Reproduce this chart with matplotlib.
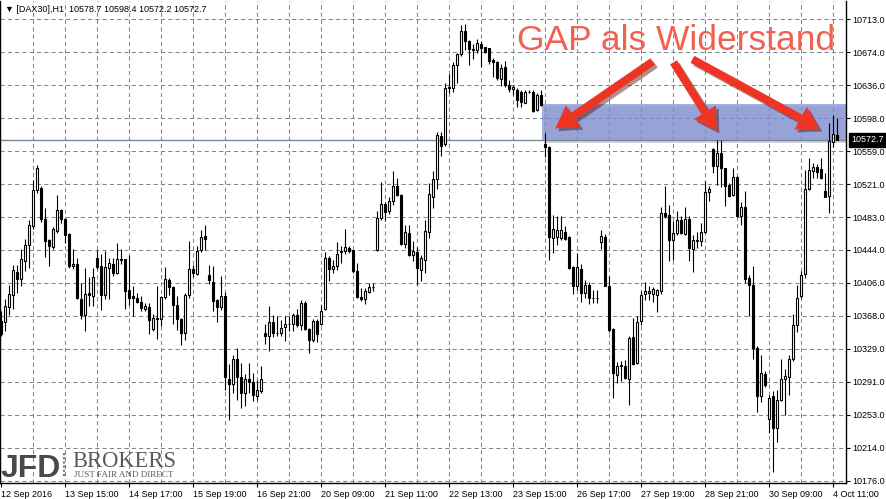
import matplotlib
matplotlib.use("Agg")
import matplotlib.pyplot as plt
from matplotlib.patches import Rectangle, FancyArrowPatch
import matplotlib.patheffects as pe
import numpy as np

# DAX30 H1 candles (bar 0 = 12 Sep 2016)
opens = [10361.9, 10360.7, 10378.2, 10392.5, 10419.2, 10411.1, 10431.6, 10450.6, 10472.3, 10514.9,
         10516.9, 10480.1, 10456.1, 10447.9, 10466.5, 10490.5, 10480.1, 10462.6, 10425.8, 10427.7,
         10387.8, 10368.9, 10394.1, 10390.9, 10434.7, 10425.4, 10392.1, 10423.9, 10428.5, 10417.3,
         10433.6, 10433.6, 10397.5, 10390.9, 10389.0, 10384.3, 10376.2, 10378.5, 10353.0, 10365.8,
         10364.6, 10390.2, 10409.1, 10401.4, 10380.8, 10364.2, 10347.9, 10392.5, 10422.3, 10416.9,
         10444.0, 10461.0, 10415.3, 10407.6, 10386.6, 10377.7, 10391.3, 10294.8, 10288.6, 10317.6,
         10296.7, 10278.1, 10294.8, 10291.3, 10274.3, 10280.1, 10348.3, 10344.8, 10360.7, 10348.3,
         10347.9, 10354.5, 10358.7, 10358.4, 10369.2, 10357.6, 10382.8, 10352.5, 10340.1, 10362.2,
         10358.4, 10375.8, 10435.1, 10422.3, 10425.4, 10441.7, 10442.9, 10446.8, 10444.1, 10420.4,
         10390.2, 10387.5, 10395.6, 10401.5, 10444.1, 10481.7, 10498.3, 10489.4, 10501.0, 10519.2,
         10508.0, 10451.8, 10464.2, 10438.3, 10442.1, 10421.6, 10432.4, 10465.4, 10505.7, 10527.0,
         10577.4, 10567.7, 10634.3, 10632.8, 10659.9, 10672.3, 10699.4, 10687.8, 10676.9, 10677.4,
         10683.9, 10680.4, 10679.3, 10666.1, 10663.0, 10643.6, 10658.0, 10636.0, 10632.0, 10630.7,
         10628.8, 10616.0, 10628.8, 10628.8, 10607.5, 10624.9, 10568.0, 10564.1, 10458.3, 10460.2,
         10458.3, 10466.0, 10459.1, 10424.6, 10402.9, 10422.6, 10394.4, 10404.0, 10388.6, 10388.6,
         10453.3, 10460.2, 10402.9, 10352.5, 10299.4, 10309.1, 10309.9, 10294.4, 10343.2, 10313.0,
         10361.4, 10393.6, 10394.4, 10393.6, 10392.4, 10396.3, 10487.4, 10485.4, 10456.4, 10464.1,
         10479.6, 10463.3, 10480.4, 10445.5, 10455.6, 10454.4, 10464.9, 10511.8, 10561.8, 10542.4,
         10557.1, 10539.7, 10520.3, 10508.7, 10529.2, 10484.3, 10494.3, 10411.8, 10404.0, 10330.4,
         10275.0, 10300.6, 10247.9, 10275.0, 10237.4, 10270.4, 10294.4, 10296.7, 10317.6, 10357.6,
         10391.3, 10416.8, 10515.2, 10537.0, 10540.8, 10538.5, 10512.6, 10507.5, 10570.7, 10578.7]
highs = [10373.5, 10387.8, 10403.7, 10426.6, 10426.6, 10445.2, 10456.8, 10478.9, 10525.8, 10544.0,
         10518.8, 10492.8, 10456.8, 10471.5, 10508.0, 10491.7, 10482.0, 10464.6, 10446.0, 10435.5,
         10406.4, 10423.9, 10412.6, 10423.9, 10444.0, 10439.4, 10442.9, 10435.5, 10435.5, 10452.2,
         10445.2, 10434.3, 10438.6, 10402.6, 10394.8, 10390.9, 10383.2, 10383.2, 10369.6, 10402.6,
         10390.9, 10424.6, 10411.8, 10402.1, 10391.3, 10365.3, 10394.4, 10454.5, 10427.3, 10449.4,
         10468.0, 10473.8, 10427.3, 10426.2, 10387.4, 10413.8, 10395.2, 10312.2, 10322.7, 10330.5,
         10313.0, 10300.6, 10313.0, 10301.4, 10293.6, 10309.1, 10358.7, 10379.7, 10369.2, 10368.0,
         10362.6, 10368.0, 10367.3, 10371.1, 10375.8, 10385.9, 10384.7, 10353.7, 10364.2, 10364.2,
         10380.8, 10441.7, 10437.8, 10432.4, 10453.3, 10449.5, 10469.3, 10448.7, 10444.8, 10429.4,
         10400.3, 10400.3, 10406.1, 10406.1, 10489.4, 10523.5, 10499.9, 10505.7, 10535.9, 10528.2,
         10509.6, 10473.9, 10473.9, 10454.5, 10447.5, 10439.0, 10479.7, 10522.3, 10535.9, 10581.6,
         10581.6, 10638.6, 10649.1, 10663.8, 10673.5, 10706.4, 10707.2, 10689.0, 10683.9, 10690.1,
         10687.8, 10681.2, 10680.1, 10668.4, 10664.6, 10660.7, 10664.6, 10642.0, 10636.0, 10632.7,
         10631.0, 10630.7, 10630.7, 10630.7, 10626.9, 10630.7, 10581.1, 10565.6, 10485.4, 10483.5,
         10484.3, 10471.9, 10461.0, 10425.4, 10440.9, 10428.5, 10409.9, 10406.7, 10398.2, 10398.2,
         10468.0, 10463.3, 10413.7, 10353.7, 10313.8, 10314.9, 10316.1, 10344.0, 10365.3, 10367.2,
         10396.3, 10406.7, 10402.1, 10401.3, 10399.0, 10494.3, 10519.1, 10497.0, 10477.7, 10489.3,
         10484.3, 10495.1, 10483.5, 10462.2, 10466.0, 10475.7, 10525.3, 10518.4, 10562.9, 10572.6,
         10572.6, 10539.7, 10522.2, 10539.7, 10530.8, 10499.8, 10512.6, 10415.7, 10425.4, 10332.4,
         10322.7, 10303.3, 10276.2, 10280.0, 10282.0, 10317.6, 10306.0, 10322.7, 10370.3, 10404.0,
         10419.5, 10537.7, 10551.3, 10545.5, 10544.7, 10551.3, 10533.9, 10592.0, 10601.7, 10598.4]
lows = [10344.4, 10350.3, 10368.9, 10375.4, 10394.8, 10402.6, 10420.0, 10423.9, 10469.2, 10510.3,
        10477.0, 10436.7, 10425.8, 10445.2, 10464.6, 10476.2, 10452.2, 10423.9, 10421.9, 10387.8,
        10363.8, 10350.3, 10379.3, 10379.3, 10421.9, 10374.7, 10387.8, 10387.1, 10414.2, 10416.1,
        10427.7, 10375.4, 10380.1, 10367.7, 10382.4, 10373.5, 10373.5, 10346.4, 10350.3, 10340.6,
        10356.1, 10387.1, 10392.5, 10358.7, 10351.0, 10333.6, 10339.4, 10388.6, 10413.0, 10415.7,
        10441.7, 10444.0, 10405.2, 10373.1, 10360.3, 10374.3, 10282.0, 10246.4, 10278.1, 10269.6,
        10260.7, 10262.6, 10278.1, 10268.5, 10269.6, 10278.1, 10335.5, 10326.6, 10343.2, 10344.0,
        10344.0, 10338.2, 10349.8, 10349.8, 10354.5, 10351.8, 10351.0, 10324.6, 10337.0, 10337.0,
        10356.8, 10375.0, 10408.0, 10417.6, 10421.5, 10429.4, 10439.8, 10441.0, 10417.7, 10388.7,
        10384.8, 10381.7, 10394.5, 10397.2, 10442.9, 10479.7, 10478.6, 10486.3, 10496.4, 10506.8,
        10450.7, 10446.8, 10437.1, 10431.3, 10404.2, 10408.8, 10417.7, 10458.4, 10493.3, 10515.8,
        10554.1, 10565.0, 10627.0, 10628.9, 10638.6, 10670.8, 10677.4, 10659.9, 10666.9, 10673.5,
        10658.0, 10673.5, 10660.7, 10646.4, 10642.5, 10635.9, 10634.7, 10628.0, 10625.0, 10611.4,
        10611.4, 10615.2, 10626.9, 10605.6, 10606.7, 10612.1, 10553.2, 10433.1, 10440.9, 10450.5,
        10456.4, 10456.4, 10422.6, 10393.6, 10398.2, 10383.5, 10388.6, 10381.9, 10382.7, 10382.7,
        10445.5, 10402.1, 10348.6, 10272.3, 10289.7, 10291.7, 10294.4, 10264.5, 10311.1, 10311.8,
        10357.6, 10386.6, 10386.6, 10383.5, 10371.9, 10393.6, 10481.6, 10431.2, 10433.1, 10462.2,
        10463.3, 10462.2, 10431.2, 10418.4, 10446.7, 10448.6, 10464.1, 10502.1, 10533.9, 10520.3,
        10517.6, 10495.9, 10506.7, 10507.5, 10482.7, 10473.8, 10406.0, 10368.0, 10317.6, 10255.6,
        10267.2, 10284.7, 10231.6, 10185.9, 10220.8, 10268.4, 10252.9, 10276.2, 10314.9, 10348.6,
        10388.6, 10411.8, 10514.5, 10528.1, 10528.1, 10526.9, 10506.0, 10488.1, 10564.9, 10572.2]
closes = [10346.4, 10379.3, 10392.9, 10420.8, 10410.3, 10433.6, 10449.8, 10473.9, 10514.9, 10540.1,
          10480.1, 10454.9, 10449.1, 10468.4, 10491.3, 10480.8, 10461.9, 10425.8, 10428.5, 10389.0,
          10368.9, 10393.7, 10391.7, 10412.6, 10425.0, 10392.1, 10424.3, 10429.7, 10418.1, 10433.6,
          10432.4, 10396.7, 10389.0, 10389.0, 10384.0, 10377.4, 10378.9, 10363.0, 10365.8, 10364.6,
          10389.4, 10410.3, 10401.4, 10380.1, 10364.2, 10347.9, 10392.5, 10422.3, 10417.6, 10443.6,
          10459.5, 10457.2, 10409.1, 10384.7, 10377.7, 10390.5, 10296.4, 10288.6, 10317.6, 10296.4,
          10278.1, 10294.8, 10290.5, 10275.4, 10282.0, 10294.8, 10344.0, 10360.3, 10347.9, 10347.5,
          10353.7, 10358.4, 10358.0, 10368.4, 10357.6, 10382.8, 10352.5, 10340.1, 10362.2, 10347.1,
          10373.1, 10435.1, 10422.3, 10426.2, 10440.1, 10443.7, 10447.9, 10442.9, 10420.4, 10389.4,
          10387.5, 10397.2, 10401.9, 10401.1, 10481.7, 10497.9, 10488.6, 10501.0, 10519.2, 10508.0,
          10451.8, 10465.4, 10438.3, 10443.7, 10423.5, 10435.2, 10466.9, 10509.6, 10527.0, 10578.5,
          10566.1, 10633.6, 10632.8, 10659.9, 10672.7, 10699.4, 10687.8, 10678.1, 10678.9, 10685.1,
          10679.3, 10674.6, 10664.9, 10663.8, 10644.4, 10656.0, 10636.7, 10632.0, 10634.0, 10619.1,
          10617.2, 10628.8, 10628.4, 10606.7, 10624.9, 10613.3, 10564.1, 10460.2, 10468.7, 10468.0,
          10468.0, 10457.1, 10423.4, 10402.1, 10424.6, 10394.4, 10404.0, 10388.6, 10388.2, 10389.0,
          10461.0, 10402.9, 10350.9, 10301.4, 10309.9, 10311.1, 10295.5, 10342.0, 10312.2, 10360.7,
          10392.4, 10396.3, 10396.7, 10399.4, 10398.2, 10488.1, 10483.5, 10456.4, 10464.1, 10479.6,
          10464.1, 10480.4, 10446.7, 10455.6, 10455.2, 10466.0, 10511.8, 10515.6, 10542.4, 10557.1,
          10539.7, 10518.4, 10507.5, 10529.2, 10483.5, 10494.3, 10410.6, 10404.0, 10330.4, 10275.0,
          10301.4, 10287.8, 10272.3, 10237.4, 10270.4, 10294.4, 10297.5, 10317.6, 10357.6, 10388.6,
          10415.7, 10515.2, 10537.7, 10540.8, 10535.8, 10528.1, 10506.7, 10571.8, 10579.6, 10572.7]

price_labels = ["10713.0", "10674.0", "10636.0", "10598.0", "10559.0", "10521.0", "10483.0", "10444.0",
                "10406.0", "10368.0", "10329.0", "10291.0", "10253.0", "10214.0", "10176.0"]
time_labels = ["12 Sep 2016", "13 Sep 15:00", "14 Sep 17:00", "15 Sep 19:00", "16 Sep 21:00",
               "20 Sep 09:00", "21 Sep 11:00", "22 Sep 13:00", "23 Sep 15:00", "26 Sep 17:00",
               "27 Sep 19:00", "28 Sep 21:00", "30 Sep 09:00", "4 Oct 11:00"]
header = "\u25bc [DAX30],H1  10578.7 10598.4 10572.2 10572.7"
last_price = 10572.7
zone_low, zone_high = 10572.7, 10615.0   # the gap zone
zone_start = 135.3                         # bar where the gap opened

grid_col = "#778899"
small_font = ["Liberation Sans", "DejaVu Sans"]

# figure with pixel layout like the MT4 window
W, H = 887, 499
fig = plt.figure(figsize=(W / 100, H / 100), dpi=100)
ax = fig.add_axes([0, 16 / H, 846 / W, 482 / H])
ax.set_xlim(-0.25, 211.25)
ax.set_ylim(10173.3, 10734.3)

# grid
ticks_y = np.linspace(10713, 10176, len(price_labels))
for p in ticks_y:
    ax.axhline(p, color=grid_col, lw=0.75, ls=(0, (4, 3)), zorder=1)
for b in range(8, len(opens), 8):
    ax.axvline(b, color=grid_col, lw=0.75, ls=(0, (4, 3)), zorder=1)

# gap zone
zone = Rectangle((zone_start, zone_low), 211.25 - zone_start, zone_high - zone_low,
                 facecolor="#8190d6", alpha=0.72, edgecolor="none", zorder=2,
                 path_effects=[pe.SimplePatchShadow(offset=(1.5, -2), alpha=0.2), pe.Normal()])
ax.add_patch(zone)

# current price line
ax.axhline(last_price, color=grid_col, lw=1, zorder=2)

# candles
for i in range(len(opens)):
    o, h, l, c = opens[i], highs[i], lows[i], closes[i]
    ax.vlines(i, l, h, color="black", lw=0.8, zorder=3)
    lo = min(o, c)
    hgt = max(abs(c - o), 0.3)
    fc = "white" if c >= o else "black"
    ax.add_patch(Rectangle((i - 0.27, lo), 0.54, hgt, facecolor=fc, edgecolor="black",
                           lw=0.8, zorder=4))

# axes styling
ax.yaxis.tick_right()
ax.set_yticks(ticks_y)
ax.set_yticklabels(price_labels, fontfamily=small_font, fontsize=6.5)
ax.set_xticks(np.arange(0, 16 * len(time_labels), 16))
ax.set_xticklabels(time_labels, fontfamily=small_font, fontsize=6.5, ha="left")
ax.tick_params(axis="both", length=3, width=0.8, color="black", pad=1.5)
ax.tick_params(axis="x", pad=2)
for s in ["left", "bottom", "right"]:
    ax.spines[s].set_color("black")
    ax.spines[s].set_linewidth(1)
ax.spines["top"].set_visible(False)

# current price tag
ax.annotate(f"{last_price:.1f}", xy=(1, last_price), xycoords=("axes fraction", "data"),
            xytext=(4, 0), textcoords="offset points", va="center", ha="left",
            fontfamily=small_font, fontsize=6.5, color="white",
            bbox=dict(boxstyle="square,pad=0.25", fc="black", ec="black"))

# header
fig.text(5 / W, 1 - 9 / H, header, fontfamily=small_font, fontsize=6.5, va="center", ha="left")

# annotation text and arrows
fig.text(517 / W, 1 - 50 / H, "GAP als Widerstand", fontfamily="Liberation Sans", fontsize=25.5,
         color="#f2604f", va="baseline", ha="left")
arrow_tips = [((655, 439), (553, 369)), ((672, 439), (718, 366)), ((690, 441), (822, 369))]
for tail, tip in arrow_tips:
    arr = FancyArrowPatch(tail, tip, transform=None,
                          arrowstyle="simple,head_length=1.3,head_width=1.55,tail_width=0.48",
                          mutation_scale=12, facecolor="#ee3524", edgecolor="none", zorder=10,
                          path_effects=[pe.SimplePatchShadow(offset=(2, -2), alpha=0.45), pe.Normal()])
    fig.add_artist(arr)

# broker logo
fig.text(1 / W, 1 - 477 / H, "JFD", fontfamily="Liberation Sans", fontweight="bold",
         fontsize=23, color="#4a4a4a", va="baseline", ha="left")
fig.add_artist(plt.Line2D([64 / W, 64 / W], [1 - 476 / H, 1 - 453 / H], color="#777777",
                          lw=1.5, ls=(0, (1, 1))))
fig.text(72 / W, 1 - 467 / H, "BROKERS", fontfamily="Liberation Serif", fontsize=16.3,
         color="#5a5a5a", va="baseline", ha="left")
fig.text(74 / W, 1 - 477 / H, "JUST FAIR AND DIRECT", fontfamily="Liberation Serif", fontsize=6.6,
         color="#5a5a5a", va="baseline", ha="left")

plt.savefig("out.png", dpi=100)
